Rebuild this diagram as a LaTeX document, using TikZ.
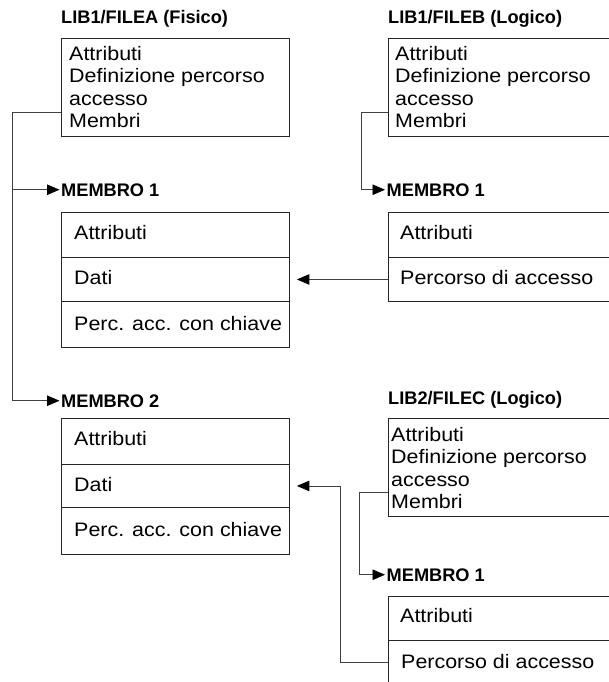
\documentclass[tikz,border=0pt]{standalone}
\usepackage{fontspec}
\setmainfont{Liberation Sans}
\newfontfamily\bodyfamily{Liberation Sans}[FakeStretch=1.1]
\usetikzlibrary{arrows.meta,calc}
\newcommand\bodytext{\bodyfamily\fontsize{19.5}{22.3}\selectfont}
\newcommand\headtext{\fontsize{18.2}{21}\selectfont\bfseries}
\begin{document}
\begin{tikzpicture}[x=1pt,y=-1pt,
  frame/.style={draw=black!85, line width=0.9pt, inner sep=0pt, anchor=north west},
  lbox/.style={frame, minimum width=228pt, minimum height=98pt},
  rbox/.style={frame, minimum width=260pt, minimum height=98pt},
  lrow/.style={frame, minimum width=228pt},
  rrow/.style={frame, minimum width=260pt},
  txt/.style={font=\bodytext, inner sep=0pt, anchor=base west},
  title/.style={font=\headtext, inner sep=0pt, anchor=base west},
  mlabel/.style={font=\headtext, inner sep=1.5pt, anchor=base west},
  link/.style={draw=black!75, line width=0.9pt},
  arr/.style={link, -{Triangle[length=12.5pt,width=10.5pt,color=black]}}]
\clip (0,0) rectangle (609,682);

% ---------- LIB1/FILEA (physical file) ----------
\node[title] (tA) at (61,24) {LIB1/FILEA (Fisico)};
\node[lbox] (fileA) at (61,38) {};
\node[txt] (fA1) at (69,61)  {Attributi};
\node[txt] (fA2) at (69,83)  {Definizione percorso};
\node[txt] (fA3) at (69,106) {accesso};
\node[txt] (fA4) at (69,128) {Membri};

% member 1 of FILEA
\node[mlabel] (m1aLbl) at (59.5,196) {MEMBRO 1};
\node[lrow, minimum height=45pt] (m1aR1) at (61,212) {};
\node[lrow, minimum height=44pt] (m1aR2) at (61,257) {};
\node[lrow, minimum height=46pt] (m1aR3) at (61,301) {};
\node[txt] (m1aT1) at ($(m1aR1.west)+(13,5)$) {Attributi};
\node[txt] (m1aT2) at ($(m1aR2.west)+(13,5)$) {Dati};
\node[txt] (m1aT3) at ($(m1aR3.west)+(13,6)$) {Perc. acc. con chiave};

% member 2 of FILEA
\node[mlabel] (m2aLbl) at (59.5,407) {MEMBRO 2};
\node[lrow, minimum height=46pt] (m2aR1) at (61,418) {};
\node[lrow, minimum height=43pt] (m2aR2) at (61,464) {};
\node[lrow, minimum height=47pt] (m2aR3) at (61,507) {};
\node[txt] (m2aT1) at ($(m2aR1.west)+(13,4)$) {Attributi};
\node[txt] (m2aT2) at ($(m2aR2.west)+(13,6)$) {Dati};
\node[txt] (m2aT3) at ($(m2aR3.west)+(13,6)$) {Perc. acc. con chiave};

% ---------- LIB1/FILEB (logical file) ----------
\node[title] (tB) at (388,24) {LIB1/FILEB (Logico)};
\node[rbox] (fileB) at (388,38) {};
\node[txt] (fB1) at (395,61)  {Attributi};
\node[txt] (fB2) at (395,83)  {Definizione percorso};
\node[txt] (fB3) at (395,106) {accesso};
\node[txt] (fB4) at (395,128) {Membri};

\node[mlabel] (m1bLbl) at (385,196) {MEMBRO 1};
\node[rrow, minimum height=45pt] (m1bR1) at (388,212) {};
\node[rrow, minimum height=44pt] (m1bR2) at (388,257) {};
\node[txt] (m1bT1) at ($(m1bR1.west)+(12,5)$) {Attributi};
\node[txt] (m1bT2) at ($(m1bR2.west)+(12,5)$) {Percorso di accesso};

% ---------- LIB2/FILEC (logical file) ----------
\node[title] (tC) at (388,404) {LIB2/FILEC (Logico)};
\node[rbox] (fileC) at (388,418) {};
\node[txt] (fC1) at (391,441) {Attributi};
\node[txt] (fC2) at (391,463) {Definizione percorso};
\node[txt] (fC3) at (391,486) {accesso};
\node[txt] (fC4) at (391,508) {Membri};

\node[mlabel] (m1cLbl) at (385,581) {MEMBRO 1};
\node[rrow, minimum height=44pt] (m1cR1) at (388,596) {};
\node[rrow, minimum height=44pt] (m1cR2) at (388,640) {};
\node[txt] (m1cT1) at ($(m1cR1.west)+(12,4)$) {Attributi};
\node[txt] (m1cT2) at ($(m1cR2.west)+(13,6)$) {Percorso di accesso};

% ---------- connectors ----------
% FILEA members
\coordinate (aOut) at ($(fileA.north west)+(0,74)$);
\coordinate (aBus) at (12,112);
\draw[link] (aOut) -- (aBus);
\draw[arr] (aBus) |- (m1aLbl.west);
\draw[arr] (aBus) |- (m2aLbl.west);

% FILEB member
\coordinate (bOut) at ($(fileB.north west)+(0,74)$);
\coordinate (bBend) at (361,112);
\draw[arr] (bOut) -- (bBend) |- (m1bLbl.west);

% FILEB access path refers to FILEA member 1 data
\draw[arr, shorten >=7pt] (m1bR2.west) -- (m1aR2.east);

% FILEC member
\coordinate (cOut) at ($(fileC.north west)+(0,74)$);
\coordinate (cBend) at (359,492);
\draw[arr] (cOut) -- (cBend) |- (m1cLbl.west);

% FILEC access path refers to FILEA member 2 data
\coordinate (cIn) at ($(m1cR2.north west)+(0,22)$);
\coordinate (cBus) at (340,662);
\draw[arr, shorten >=7pt] (cIn) -- (cBus) |- (m2aR2.east);
\end{tikzpicture}
\end{document}
